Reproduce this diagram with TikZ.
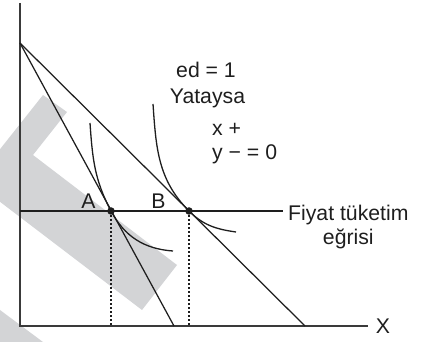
\documentclass[tikz,border=0pt]{standalone}
\usepackage{fontspec}
\setmainfont{Liberation Sans}
\usepackage{tikz}
\usetikzlibrary{arrows.meta,positioning,calc}
\definecolor{axisgray}{HTML}{3A3A3A}
\definecolor{linegray}{HTML}{1E1E1E}
\definecolor{markgray}{HTML}{D3D4D6}

\begin{document}
\begin{tikzpicture}[x=1bp, y=1bp,
    every node/.style={font=\fontsize{21.3}{24}\selectfont, text=linegray, inner sep=0pt},
    axisline/.style={line width=1.5bp, axisgray},
    budget/.style={line width=1.25bp, linegray},
    icurve/.style={line width=1.3bp, linegray},
    guide/.style={line width=1.1bp, linegray, dash pattern=on 2.2bp off 1.8bp},
    dot/.style={circle, fill=linegray, minimum size=7.5bp, inner sep=0pt}]
  \useasboundingbox (0,0) rectangle (423,342);

  % watermark band
  \begin{scope}
    \clip (0,0) rectangle (423,342);
    \fill[markgray] (43,247) -- (67,230) -- (33,187) -- (177,77) -- (142,32) -- (-26,160) -- cycle;
    \fill[markgray] (0,32) -- (43,0) -- (0,0) -- cycle;
  \end{scope}

  % axes
  \coordinate (origin) at (20,16);
  \coordinate (ytop) at (20,339);
  \coordinate (xend) at (368,16);
  \draw[axisline] (ytop) -- (origin) -- (xend);
  \node[anchor=center] (xlbl) at (383,16) {X};

  % budget lines
  \coordinate (icpt) at (20,299);
  \coordinate (steepend) at (174,16);
  \coordinate (flatend) at (305,16);
  \draw[budget] (icpt) -- (steepend);
  \draw[budget] (icpt) -- (flatend);

  % price consumption curve
  \coordinate (pccstart) at (20,131);
  \coordinate (pccend) at (283,131);
  \draw[budget] (pccstart) -- (pccend);
  \node[anchor=north west, align=center] (pcc) at (288,137) {Fiyat tüketim\\eğrisi};

  % tangency points
  \node[dot] (A) at (111,131) {};
  \node[dot] (B) at (189,131) {};
  \node[anchor=base] (albl) at (88.5,134) {A};
  \node[anchor=base] (blbl) at (158.5,134) {B};
  \coordinate (Ax) at (111,16);
  \coordinate (Bx) at (189,16);
  \draw[guide] (A.center) -- (Ax);
  \draw[guide] (B.center) -- (Bx);

  % indifference curves
  \coordinate (ic1top) at (90,219);
  \coordinate (ic1end) at (173,91);
  \coordinate (ic2top) at (153,238);
  \coordinate (ic2end) at (236,110);
  \draw[icurve] (ic1top) to[out=-86, in=118] (A.center) to[out=-62, in=176] (ic1end);
  \draw[icurve] (ic2top) to[out=-86, in=135] (B.center) to[out=-45, in=172] (ic2end);

  % notes
  \node[anchor=base] (ed) at (206,265) {ed = 1};
  \node[anchor=base] (yat) at (207.5,239) {Yataysa};
  \node[anchor=base west] (xplus) at (212,207) {x +};
  \node[anchor=base west] (yzero) at (212,183) {y − = 0};
\end{tikzpicture}
\end{document}
